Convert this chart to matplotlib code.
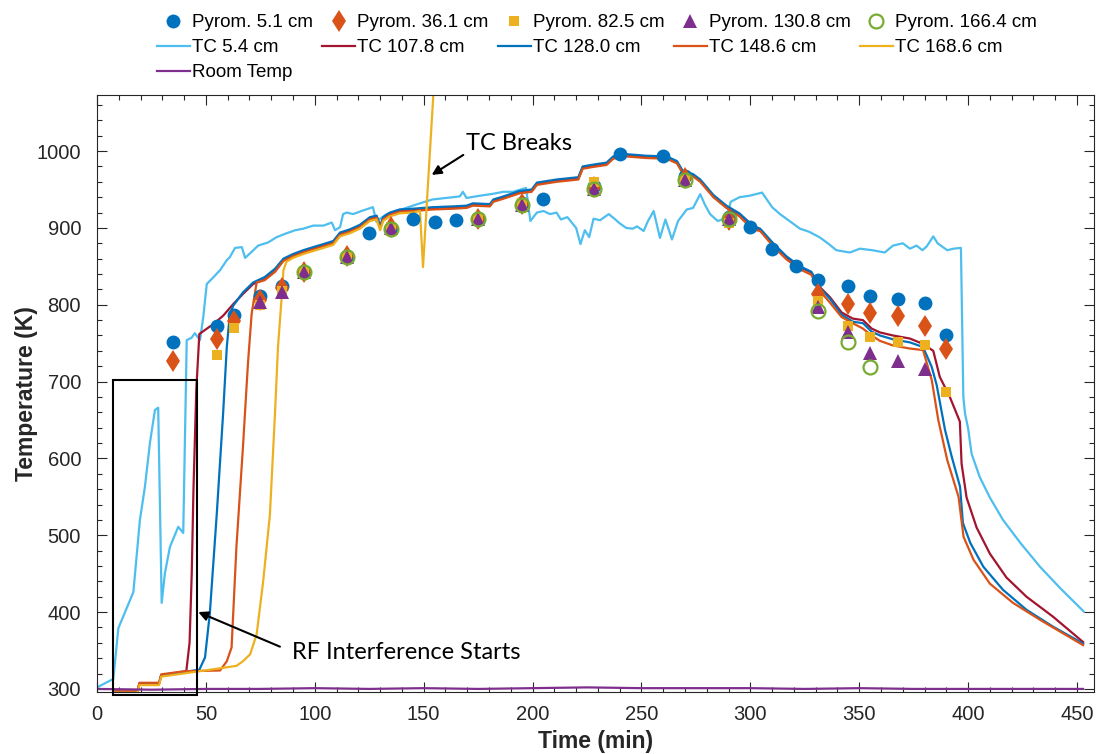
import matplotlib
matplotlib.use('Agg')
import matplotlib.pyplot as plt
from matplotlib.patches import Rectangle
from matplotlib.ticker import MultipleLocator

plt.rcParams['font.family'] = ['Liberation Sans', 'DejaVu Sans']

# ---- pyrometer readings (time min, temperature K) ----
p1_t = [35, 55, 63, 75, 85, 95, 115, 125, 135, 145, 155, 165, 175, 195, 205, 228, 240, 260, 270, 290,
        300, 310, 321, 331, 345, 355, 368, 380, 390]
p1_T = [751, 773, 787, 812, 824, 843, 864, 893, 900, 912, 908, 910, 913, 933, 937, 955, 996, 994, 968, 914,
        901, 873, 851, 832, 824, 812, 807, 802, 761]
p2_t = [35, 55, 63, 75, 85, 95, 115, 135, 175, 195, 228, 270, 290, 331, 345, 355, 368, 380, 390]
p2_T = [727, 755, 779, 806, 822, 843, 863, 901, 912, 931, 953, 965, 910, 814, 801, 789, 785, 773, 743]
p3_t = [55, 63, 75, 85, 95, 115, 135, 175, 195, 228, 270, 290, 331, 345, 355, 368, 380, 390]
p3_T = [734, 770, 800, 818, 843, 862, 901, 913, 932, 960, 962, 906, 805, 772, 758, 752, 748, 686]
p4_t = [75, 85, 95, 115, 135, 175, 195, 228, 270, 290, 331, 345, 355, 368, 380]
p4_T = [804, 817, 842, 862, 900, 911, 930, 951, 963, 912, 797, 765, 737, 727, 717]
p5_t = [95, 115, 135, 175, 195, 228, 270, 290, 331, 345, 355]
p5_T = [842, 862, 899, 911, 930, 951, 963, 911, 792, 751, 719]

# ---- thermocouples ----
t_cyan = [0, 7.5, 9.8, 16.7, 19.7, 22, 24.3, 26.6, 28.1, 29.7,
          31.2, 33.5, 37.3, 39.6, 41.2, 43.4, 44.9, 47.3, 48.8, 50.4,
          53.5, 56.5, 59.6, 61, 63.4, 66.5, 68, 70.3, 74, 78.5,
          82.5, 87, 91, 94.7, 99.3, 104, 107.8, 109.3, 111.6, 113,
          114.7, 117.6, 121.4, 126.7, 128.3, 130, 133, 137.6, 145, 148.3,
          154, 160.5, 166.6, 168, 169.7, 176, 181, 186.6, 191, 197,
          199, 202, 205, 208, 211, 213, 216, 220, 222, 224,
          226, 228, 231, 235, 238, 240, 243, 246, 248, 251,
          253, 255.6, 257, 258.5, 261, 264, 266.8, 270.8, 273.7, 277,
          279, 281.5, 285, 289, 291, 295, 299.8, 305.4, 310, 313.6,
          318, 322.8, 327, 331.7, 335.6, 339.5, 345.7, 350.3, 356, 361.7,
          365.5, 370, 373.3, 376.3, 379, 381, 384, 386, 390.4, 393.4,
          396.7, 397.8, 398.6, 400, 401.6, 405.3, 410, 416, 424, 433,
          442, 453]
T_cyan = [302, 313, 379, 426, 520, 563, 620, 663, 666, 412,
          451, 485, 511, 503, 754, 757, 763, 754, 784, 827,
          836, 845, 858, 862, 874, 875, 861, 867, 877, 881,
          888, 893, 897, 899, 903, 903, 907, 897, 901, 918,
          920, 918, 922, 927, 908, 912, 918, 922, 929, 932,
          937, 939, 941, 947, 939, 942, 944, 947, 947, 952,
          909, 920, 922, 918, 920, 911, 914, 900, 879, 897,
          888, 912, 910, 918, 911, 906, 900, 899, 902, 896,
          909, 922, 905, 887, 911, 885, 909, 924, 926, 944,
          931, 918, 909, 913, 934, 940, 942, 946, 927, 918,
          909, 899, 895, 888, 880, 871, 868, 873, 871, 868,
          877, 880, 873, 877, 871, 876, 889, 880, 871, 873,
          874, 680, 658, 639, 606, 576, 549, 520, 490, 459,
          432, 401]

t_red = [8, 18.5, 19.5, 28.5, 29.5, 41, 42.5, 43.5, 44.3, 45.6,
         47, 53.5, 58, 62.6, 67, 71.7, 77, 81.8, 85.6, 90,
         94.7, 99.3, 104, 108.5, 111.6, 116, 120.7, 125.3, 128.4, 130,
         131.4, 134.5, 139, 145, 154.3, 163.5, 169.7, 172.6, 180.4, 182,
         186.6, 194, 199.6, 202, 211, 221, 223, 227, 234, 237,
         243, 252, 261.6, 266.3, 269, 273.7, 277, 283, 289, 295,
         301, 304.5, 310.5, 316.6, 322.8, 328, 331.9, 336.5, 341.9, 347,
         351.7, 355.7, 359.5, 365.5, 373.3, 379.3, 384, 387, 391.6, 396.2,
         397, 399.3, 403.9, 410, 417.6, 426.8, 439, 452.8]
T_red = [296, 296, 307, 307, 318, 323, 360, 450, 560, 690,
         762, 775, 786, 801, 814, 827, 833, 844, 858, 864,
         869, 873, 877, 881, 892, 896, 902, 912, 914, 900,
         912, 918, 922, 923, 925, 926, 927, 930, 929, 935,
         939, 946, 948, 957, 961, 964, 978, 980, 983, 991,
         994, 992, 991, 985, 972, 968, 961, 941, 927, 918,
         903, 897, 879, 862, 849, 842, 823, 810, 790, 782,
         780, 769, 764, 760, 756, 749, 740, 706, 680, 648,
         593, 549, 510, 476, 445, 420, 394, 361]

t_blue = [8, 18.5, 19.5, 28.5, 29.5, 40, 47, 49.6, 51.8, 55,
          57.9, 59.6, 61, 62.6, 67, 71.7, 77, 81.8, 85.6, 90,
          94.7, 99.3, 104, 108.5, 111.6, 116, 120.7, 125.3, 128.4, 130,
          131.4, 134.5, 139, 145, 154.3, 163.5, 169.7, 172.6, 180.4, 182,
          186.6, 194, 199.6, 202, 211, 221, 223, 227, 234, 237,
          243, 252, 261.6, 266.3, 269, 273.7, 277, 283, 289, 295,
          301, 304.5, 310.5, 316.6, 322.8, 328, 331.9, 336.5, 341.9, 347,
          351.7, 355.7, 359.5, 365.5, 373.3, 379.3, 383.3, 385.6, 389.4, 392.5,
          396.3, 397.6, 401, 407, 416, 426.8, 439, 452.8]
T_blue = [296, 296, 307, 307, 318, 322, 325, 341, 398, 528,
          658, 745, 788, 799, 816, 829, 836, 847, 860, 866,
          871, 875, 879, 883, 894, 898, 904, 914, 916, 903,
          914, 920, 924, 925, 927, 928, 929, 932, 931, 937,
          941, 948, 950, 959, 963, 966, 980, 982, 985, 993,
          996, 994, 993, 987, 974, 970, 963, 943, 929, 919,
          903, 899, 880, 863, 850, 843, 822, 808, 787, 778,
          776, 765, 760, 755, 751, 745, 719, 695, 637, 602,
          563, 516, 490, 459, 429, 403, 381, 359]

t_orng = [8, 18.5, 19.5, 28.5, 29.5, 40, 56.5, 59.6, 61.8, 64,
          67, 69.3, 71, 73.3, 77, 81.8, 85.6, 90, 94.7, 99.3,
          104, 108.5, 111.6, 116, 120.7, 125.3, 128.4, 130, 131.4, 134.5,
          139, 145, 154.3, 163.5, 169.7, 172.6, 180.4, 182, 186.6, 194,
          199.6, 202, 211, 221, 223, 227, 234, 237, 243, 252,
          261.6, 266.3, 269, 273.7, 277, 283, 289, 295, 301, 304.5,
          310.5, 316.6, 322.8, 328, 331.9, 336.5, 341.9, 347, 351.7, 355.7,
          359.5, 365.5, 373.3, 379.3, 383.3, 386.3, 390.4, 395.6, 397.9, 402.5,
          410, 420.6, 433, 452.8]
T_orng = [297, 297, 308, 308, 319, 323, 324, 336, 354, 484,
          614, 723, 788, 829, 832, 843, 857, 863, 868, 872,
          876, 880, 891, 895, 901, 911, 913, 899, 911, 917,
          921, 922, 924, 925, 926, 929, 928, 934, 938, 945,
          947, 956, 960, 963, 977, 979, 982, 990, 993, 991,
          990, 984, 971, 967, 960, 940, 926, 915, 898, 896,
          876, 859, 846, 839, 818, 803, 784, 776, 769, 760,
          753, 747, 743, 741, 702, 650, 598, 550, 498, 468,
          437, 412, 390, 357]

t_yel = [8, 18.5, 19.5, 28.5, 29.5, 47, 64, 67, 70.3, 73.3,
         76.3, 79.4, 81.7, 83.1, 84.8, 85.6, 87, 90, 94.7, 99.3,
         104, 108.5, 111.6, 116, 120.7, 125.3, 128.4, 130, 131.4, 134.5,
         139, 145, 148.3, 149.7, 155]
T_yel = [295, 295, 305, 305, 316, 323, 330, 336, 345, 371,
         440, 527, 657, 745, 810, 845, 856, 861, 866, 870,
         874, 878, 889, 893, 899, 909, 911, 897, 909, 915,
         919, 920, 922, 849, 1100]

t_room = [0, 25, 50, 75, 100, 125, 150, 175, 200, 225, 250, 275, 300, 325, 350, 375, 400, 425, 452.8]
T_room = [300, 299, 300, 300, 301, 300, 301, 300, 301, 302, 301, 301, 301, 300, 301, 300, 300, 300, 300]

fig = plt.figure(figsize=(10.99, 7.54), dpi=100)
ax = fig.add_axes([97/1099, 1 - 692/754, (1094 - 97)/1099, (692 - 95)/754])

lw = 1.6
h_cyan, = ax.plot(t_cyan, T_cyan, color='#4DBEEE', lw=lw, label='TC 5.4 cm')
h_red, = ax.plot(t_red, T_red, color='#A2142F', lw=lw, label='TC 107.8 cm')
h_blue, = ax.plot(t_blue, T_blue, color='#0072BD', lw=lw, label='TC 128.0 cm')
h_orng, = ax.plot(t_orng, T_orng, color='#D95319', lw=lw, label='TC 148.6 cm')
h_yel, = ax.plot(t_yel, T_yel, color='#EDB120', lw=lw, label='TC 168.6 cm')
h_room, = ax.plot(t_room, T_room, color='#7E2F8E', lw=lw, label='Room Temp')

h_p1, = ax.plot(p1_t, p1_T, 'o', color='#0072BD', ms=10, mew=0, ls='none', zorder=3, label='Pyrom. 5.1 cm')
h_p2, = ax.plot(p2_t, p2_T, 'd', color='#D95319', ms=11.5, mew=0, ls='none', zorder=3, label='Pyrom. 36.1 cm')
h_p3, = ax.plot(p3_t, p3_T, 's', color='#EDB120', ms=7.5, mew=0, ls='none', zorder=3, label='Pyrom. 82.5 cm')
h_p4, = ax.plot(p4_t, p4_T, '^', color='#7E2F8E', ms=10, mew=0, ls='none', zorder=3, label='Pyrom. 130.8 cm')
h_p5, = ax.plot(p5_t, p5_T, 'o', color='#77AC30', mfc='none', ms=10, mew=1.6, ls='none', zorder=3, label='Pyrom. 166.4 cm')

ax.add_patch(Rectangle((7.5, 292), 38.5, 410, fill=False, ec='black', lw=1.5, clip_on=False, zorder=4))

ax.annotate('', xy=(46.5, 400), xytext=(84, 355),
            arrowprops=dict(arrowstyle='-|>', color='black', lw=1.5, mutation_scale=14, shrinkA=0, shrinkB=0))
ax.text(89.4, 348, 'RF Interference Starts', fontsize=17, family=['Lato', 'DejaVu Sans'], va='center', ha='left')
ax.annotate('', xy=(153.7, 969), xytext=(168.2, 995),
            arrowprops=dict(arrowstyle='-|>', color='black', lw=1.5, mutation_scale=14, shrinkA=0, shrinkB=0))
ax.text(169.6, 1010, 'TC Breaks', fontsize=17, family=['Lato', 'DejaVu Sans'], va='center', ha='left')

ax.set_xlim(0, 457.8)
ax.set_ylim(296, 1073)
ax.xaxis.set_major_locator(MultipleLocator(50))
ax.xaxis.set_minor_locator(MultipleLocator(10))
ax.yaxis.set_major_locator(MultipleLocator(100))
ax.yaxis.set_minor_locator(MultipleLocator(20))
ax.tick_params(which='both', direction='in', top=True, right=True, color='#262626', labelcolor='#262626', labelsize=14.5)
ax.tick_params(which='major', length=7, width=0.8)
ax.tick_params(which='minor', length=3.5, width=0.8)
ax.tick_params(axis='x', pad=9)
ax.tick_params(axis='y', pad=11.5)
for s in ax.spines.values():
    s.set_color('#262626')
    s.set_linewidth(0.8)

ax.set_xlabel('Time (min)', fontsize=16.5, fontweight='bold', color='#262626')
ax.set_ylabel('Temperature (K)', fontsize=16.5, fontweight='bold', color='#262626')
ax.xaxis.set_label_coords(0.5, -0.064)
ax.yaxis.set_label_coords(-0.059, 0.5)

handles = [h_p1, h_cyan, h_room, h_p2, h_red, h_p3, h_blue, h_p4, h_orng, h_p5, h_yel]
fig.legend(handles=handles, labels=[h.get_label() for h in handles], ncol=5, loc='upper center',
           bbox_to_anchor=(0.543, 0.981), frameon=False, fontsize=13.5, handlelength=1.76,
           handletextpad=0.1, columnspacing=0.5, labelspacing=0.41, borderpad=0, borderaxespad=0, numpoints=1)

fig.savefig('out.png', dpi=100)
